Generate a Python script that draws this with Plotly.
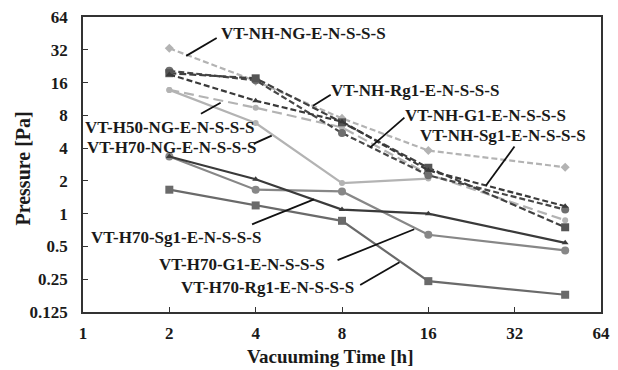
import plotly.graph_objects as go

# ---------------- data ----------------
hours = [2, 4, 8, 16, 48]

nh_ng = [33, 16.5, 7.5, 3.8, 2.67]
nh_rg1 = [19.5, 17.5, 6.9, 2.64, 0.75]
nh_g1 = [20.5, 16.8, 5.5, 2.25, 1.09]
nh_sg1 = [19.0, 10.9, 7.0, 2.5, 1.17]
h50_ng = [13.7, 9.4, 6.2, 2.3, 0.87]
h70_ng = [13.7, 6.8, 1.91, 2.1, None]
h70_rg1 = [1.66, 1.19, 0.86, 0.24, 0.18]
h70_g1 = [3.35, 1.66, 1.6, 0.64, 0.46]
h70_sg1 = [3.35, 2.07, 1.09, 1.0, 0.54]

x_ticks = [1, 2, 4, 8, 16, 32, 64]
y_ticks = [0.125, 0.25, 0.5, 1, 2, 4, 8, 16, 32, 64]
y_tick_text = ["0.125", "0.25", "0.5", "1", "2", "4", "8", "16", "32", "64"]

labels = {
    "nh_ng": "VT-NH-NG-E-N-S-S-S",
    "nh_rg1": "VT-NH-Rg1-E-N-S-S-S",
    "nh_g1": "VT-NH-G1-E-N-S-S-S",
    "nh_sg1": "VT-NH-Sg1-E-N-S-S-S",
    "h50_ng": "VT-H50-NG-E-N-S-S-S",
    "h70_ng": "VT-H70-NG-E-N-S-S-S",
    "h70_sg1": "VT-H70-Sg1-E-N-S-S-S",
    "h70_g1": "VT-H70-G1-E-N-S-S-S",
    "h70_rg1": "VT-H70-Rg1-E-N-S-S-S",
}

# ---------------- styles ----------------
LIGHT = "#b3b3b3"
DARK = "#3a3a3a"
MID = "#6a6a6a"
GRAY = "#878787"

series = [
    # key, values, line color, dash, marker symbol, marker color, marker size
    ("h70_ng", h70_ng, LIGHT, "solid", "circle", LIGHT, 6),
    ("h50_ng", h50_ng, LIGHT, "10px,5px", "circle", LIGHT, 6),
    ("nh_ng", nh_ng, LIGHT, "6px,3px", "diamond", LIGHT, 7),
    ("h70_g1", h70_g1, GRAY, "solid", "circle", GRAY, 8),
    ("h70_rg1", h70_rg1, MID, "solid", "square", MID, 8),
    ("h70_sg1", h70_sg1, DARK, "solid", "triangle-up", DARK, 6),
    ("nh_g1", nh_g1, "#474747", "6px,3px", "circle", "#6e6e6e", 8),
    ("nh_rg1", nh_rg1, "#404040", "7px,3px", "square", "#555555", 8),
    ("nh_sg1", nh_sg1, DARK, "6px,3px", "triangle-up", DARK, 6),
]

fig = go.Figure()
for key, vals, lc, dash, sym, mc, ms in series:
    fig.add_trace(go.Scatter(
        x=hours, y=vals, name=labels[key], mode="lines+markers",
        line=dict(color=lc, width=2.2, dash=dash),
        marker=dict(symbol=sym, color=mc, size=ms),
        connectgaps=False, showlegend=False,
    ))

# ---------------- layout geometry ----------------
W, H = 618, 370
L, R, T, B = 83, 8, 16, 58
PW, PH = W - L - R, H - T - B


def px(xp):
    return (xp - L) / PW


def py(yp):
    return (H - B - yp) / PH


FONT = "Liberation Serif"
TXT = "#1a1a1a"

# label positions (pixel centres) and leader lines (pixel endpoints)
label_layout = [
    ("nh_ng", 307, 33, (188, 55, 219, 37)),
    ("nh_rg1", 421, 90, (317, 105, 335, 94)),
    ("nh_g1", 493, 115, (375, 147, 410, 117)),
    ("nh_sg1", 510, 135, (493, 185, 522, 146)),
    ("h50_ng", 171, 127, (203, 113, 223, 102)),
    ("h70_ng", 173, 147, (257, 143, 275, 135)),
    ("h70_sg1", 178, 237, (255, 224, 318, 199)),
    ("h70_g1", 245, 264, (342, 260, 420, 229)),
    ("h70_rg1", 271, 287, (365, 285, 405, 262)),
]

annotations = []
shapes = []
for key, cx, cy, (x0, y0, x1, y1) in label_layout:
    annotations.append(dict(
        text="<b>%s</b>" % labels[key], x=px(cx), y=py(cy), xref="paper", yref="paper",
        xanchor="center", yanchor="middle", showarrow=False,
        font=dict(family=FONT, size=17, color=TXT),
    ))
    shapes.append(dict(
        type="line", xref="paper", yref="paper",
        x0=px(x0), y0=py(y0), x1=px(x1), y1=py(y1),
        line=dict(color="#111111", width=1.8),
    ))

# axis titles
annotations.append(dict(
    text="<b>Pressure [Pa]</b>", x=px(22), y=py(168), xref="paper", yref="paper",
    xanchor="center", yanchor="middle", showarrow=False, textangle=-90,
    font=dict(family=FONT, size=20, color=TXT),
))
annotations.append(dict(
    text="<b>Vacuuming Time [h]</b>", x=px(334), y=py(357), xref="paper", yref="paper",
    xanchor="center", yanchor="middle", showarrow=False,
    font=dict(family=FONT, size=19, color=TXT),
))

fig.update_layout(
    width=W, height=H,
    margin=dict(l=L, r=R, t=T, b=B, pad=0),
    paper_bgcolor="white", plot_bgcolor="white",
    annotations=annotations, shapes=shapes,
    font=dict(family=FONT, color=TXT),
)

fig.update_xaxes(
    type="log", range=[0, 1.80618], tickvals=x_ticks,
    ticktext=["<b>%d</b>" % v for v in x_ticks],
    tickfont=dict(family=FONT, size=17, color=TXT),
    ticks="inside", ticklen=5, tickcolor="#333", tickwidth=1.2,
    showgrid=False, zeroline=False,
    showline=True, linecolor="#333", linewidth=1.6, mirror=True,
    ticklabelstandoff=5,
)
fig.update_yaxes(
    type="log", range=[-0.90309, 1.80618], tickvals=y_ticks,
    ticktext=["<b>%s</b>" % t for t in y_tick_text],
    tickfont=dict(family=FONT, size=17, color=TXT),
    ticks="inside", ticklen=5, tickcolor="#333", tickwidth=1.2,
    showgrid=False, zeroline=False,
    showline=True, linecolor="#333", linewidth=1.6, mirror=True,
    ticklabelstandoff=10,
)

fig.write_html("out.html")
